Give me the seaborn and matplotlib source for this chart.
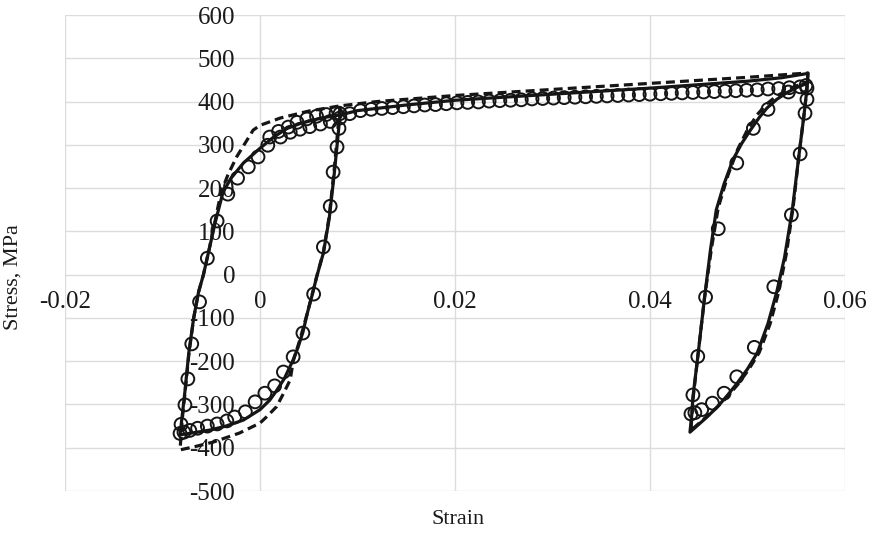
import numpy as np
import pandas as pd
import matplotlib
matplotlib.use("Agg")
import matplotlib.pyplot as plt
import seaborn as sns

# ===============================
# DATA
# ===============================
# experimental points (open circles)
exp_strain = [
    # initial loading row
    0.0010, 0.0019, 0.0029, 0.0038, 0.0048, 0.0058, 0.0068, 0.0078,
    # first unloading
    0.0082, 0.0081, 0.0079, 0.0075, 0.0072, 0.0065, 0.0055, 0.0044, 0.0034,
    0.0024, 0.0015, 0.0005, -0.0005, -0.0015, -0.0026, -0.0034, -0.0044,
    -0.0054, -0.0064, -0.0072, -0.0078, -0.0082,
    # reloading
    -0.0081, -0.0077, -0.0074, -0.0070, -0.0062, -0.0054, -0.0044, -0.0033,
    -0.0023, -0.0012, -0.0002, 0.0008, 0.0021, 0.0031, 0.0041, 0.0051,
    0.0062, 0.0072, 0.0082, 0.0092,
    # plateau
    0.0103, 0.0114, 0.0125, 0.0136, 0.0147, 0.0158, 0.0169, 0.0180, 0.0191,
    0.0202, 0.0213, 0.0224, 0.0235, 0.0246, 0.0257, 0.0268, 0.0279, 0.0290,
    0.0301, 0.0312, 0.0323, 0.0334, 0.0345, 0.0356, 0.0367, 0.0378, 0.0389,
    0.0400, 0.0411, 0.0422, 0.0433, 0.0444, 0.0455, 0.0466, 0.0477, 0.0488,
    0.0499, 0.0510, 0.0521, 0.0532, 0.0543, 0.0554, 0.0560,
    # second unloading
    0.0561, 0.0559, 0.0554, 0.0545, 0.0527, 0.0507, 0.0489, 0.0476, 0.0464,
    0.0453, 0.0446, 0.0442,
    # second reloading
    0.0444, 0.0449, 0.0457, 0.0470, 0.0489, 0.0506, 0.0521, 0.0542, 0.0561,
]
exp_stress = [
    318, 331, 341, 352, 360, 366, 370, 373,
    372, 338, 295, 237, 158, 64, -45, -135, -190,
    -225, -257, -274, -294, -317, -329, -338, -345,
    -350, -355, -360, -364, -367,
    -346, -301, -241, -160, -63, 38, 124, 186,
    223, 249, 272, 299, 318, 329, 336, 342,
    348, 354, 362, 372,
    379, 382, 384, 386, 388, 390, 392, 393, 395,
    397, 398, 399, 401, 402, 403, 404, 406, 407,
    408, 409, 410, 411, 412, 413, 414, 415, 416,
    417, 418, 419, 420, 421, 422, 423, 424, 425,
    426, 427, 429, 430, 432, 434, 437,
    405, 373, 279, 138, -28, -168, -236, -274, -297,
    -312, -319, -322,
    -278, -189, -52, 106, 258, 338, 382, 422, 431,
]

# model 1 (solid line)
solid_strain = [
    0.0082, 0.0080, 0.0076, 0.0071, 0.0065, 0.0058, 0.0054, 0.0049, 0.0044,
    0.0039, 0.0034, 0.0025, 0.0017, 0.0010, 0.0000, -0.0017, -0.0035,
    -0.0051, -0.0067, -0.0082,
    -0.0080, -0.0077, -0.0073, -0.0068, -0.0063, -0.0058, -0.0052, -0.0046,
    -0.0038, -0.0030, -0.0017, 0.0000, 0.0014, 0.0028, 0.0041, 0.0054,
    0.0068, 0.0082, 0.0100, 0.0150, 0.0200, 0.0250, 0.0300, 0.0350, 0.0400,
    0.0450, 0.0500, 0.0535, 0.0562,
    0.0561, 0.0558, 0.0553, 0.0546, 0.0538, 0.0530, 0.0521, 0.0510, 0.0500,
    0.0489, 0.0479, 0.0469, 0.0458, 0.0449, 0.0441,
    0.0443, 0.0444, 0.0449, 0.0456, 0.0462, 0.0468, 0.0476, 0.0485, 0.0494,
    0.0503, 0.0512, 0.0520, 0.0530, 0.0540, 0.0550, 0.0561,
]
solid_stress = [
    369, 320, 230, 130, 50, -6, -43, -85, -133,
    -168, -197, -240, -268, -290, -312, -336, -350,
    -359, -365, -370,
    -330, -270, -180, -100, -40, 0, 60, 120,
    190, 222, 258, 292, 318, 338, 349, 357,
    364, 369, 379, 392, 403, 410, 417, 424, 431,
    439, 447, 455, 465,
    430, 370, 280, 150, 40, -40, -113, -181, -218,
    -252, -280, -306, -330, -348, -364,
    -320, -283, -190, -52, 57, 150, 210, 265, 303,
    334, 363, 385, 405, 420, 432, 442,
]

# model 2 (dashed line)
dash_strain = [
    0.0082, 0.0080, 0.0076, 0.0071, 0.0065, 0.0058, 0.0049, 0.0041, 0.0034,
    0.0031, 0.0024, 0.0017, 0.0008, 0.0000, -0.0021, -0.0048, -0.0066,
    -0.0082,
    -0.0080, -0.0077, -0.0073, -0.0068, -0.0063, -0.0058, -0.0052, -0.0046,
    -0.0040, -0.0033, -0.0024, -0.0007, 0.0000, 0.0021, 0.0050, 0.0082,
    0.0120, 0.0200, 0.0300, 0.0400, 0.0500, 0.0562,
    0.0561, 0.0558, 0.0553, 0.0547, 0.0540, 0.0532, 0.0523, 0.0512, 0.0501,
    0.0490, 0.0479, 0.0468, 0.0457, 0.0448, 0.0442,
    0.0444, 0.0449, 0.0456, 0.0463, 0.0470, 0.0480, 0.0490, 0.0500, 0.0510,
    0.0520, 0.0530, 0.0540, 0.0550, 0.0561,
]
dash_stress = [
    390, 340, 240, 135, 52, -6, -85, -150, -200,
    -243, -275, -305, -326, -343, -366, -387, -397,
    -405,
    -340, -275, -185, -100, -40, 0, 60, 125,
    190, 230, 272, 334, 345, 362, 378, 390,
    400, 414, 428, 442, 456, 466,
    430, 370, 280, 160, 50, -40, -115, -180, -220,
    -254, -283, -308, -330, -348, -360,
    -290, -190, -52, 60, 155, 230, 290, 335, 370,
    395, 413, 425, 436, 445,
]

x_ticks = [-0.02, 0, 0.02, 0.04, 0.06]
x_labels = ["-0.02", "0", "0.02", "0.04", "0.06"]
y_ticks = [-500, -400, -300, -200, -100, 0, 100, 200, 300, 400, 500, 600]
y_labels = [str(v) for v in y_ticks]

# ===============================
# PLOT
# ===============================
sns.set_theme(style="white")
plt.rcParams['font.family'] = ['Liberation Serif', 'DejaVu Serif']

fig = plt.figure(figsize=(8.75, 5.38), dpi=100)
ax = fig.add_axes([65 / 875, 47 / 538, 780 / 875, 476 / 538])

ink = "#151515"
sns.lineplot(x=solid_strain, y=solid_stress, sort=False, estimator=None,
             color=ink, linewidth=2.3, ax=ax, zorder=3)
sns.lineplot(x=dash_strain, y=dash_stress, sort=False, estimator=None,
             color=ink, linewidth=2.3, ax=ax, zorder=3)
ax.lines[-1].set_dashes((2.8, 1.6))
sns.scatterplot(x=exp_strain, y=exp_stress, marker="o", s=85,
                facecolor="none", edgecolor=ink, linewidth=1.4,
                ax=ax, zorder=4)

ax.set_xlim(-0.02, 0.06)
ax.set_ylim(-500, 600)
ax.set_xticks(x_ticks)
ax.set_xticklabels(x_labels)
ax.set_yticks(y_ticks)
ax.set_yticklabels(y_labels)

ax.grid(True, color="#dcdcdc", linewidth=1.0)
ax.set_axisbelow(True)

# axes cross at the origin, like the spreadsheet chart
ax.spines['left'].set_position(('data', 0))
ax.spines['bottom'].set_position(('data', 0))
for s in ax.spines.values():
    s.set_visible(False)
ax.tick_params(axis='both', length=0, labelsize=18, colors="#1a1a1a")
ax.tick_params(axis='y', pad=18)
ax.tick_params(axis='x', pad=12)

ax.set_xlabel("Strain", fontsize=16, color="#1a1a1a")
ax.set_ylabel("Stress, MPa", fontsize=16, color="#1a1a1a")
ax.xaxis.set_label_coords(0.504, -0.04)
ax.yaxis.set_label_coords(-0.054, 0.45)

fig.savefig("out.png", dpi=100)
